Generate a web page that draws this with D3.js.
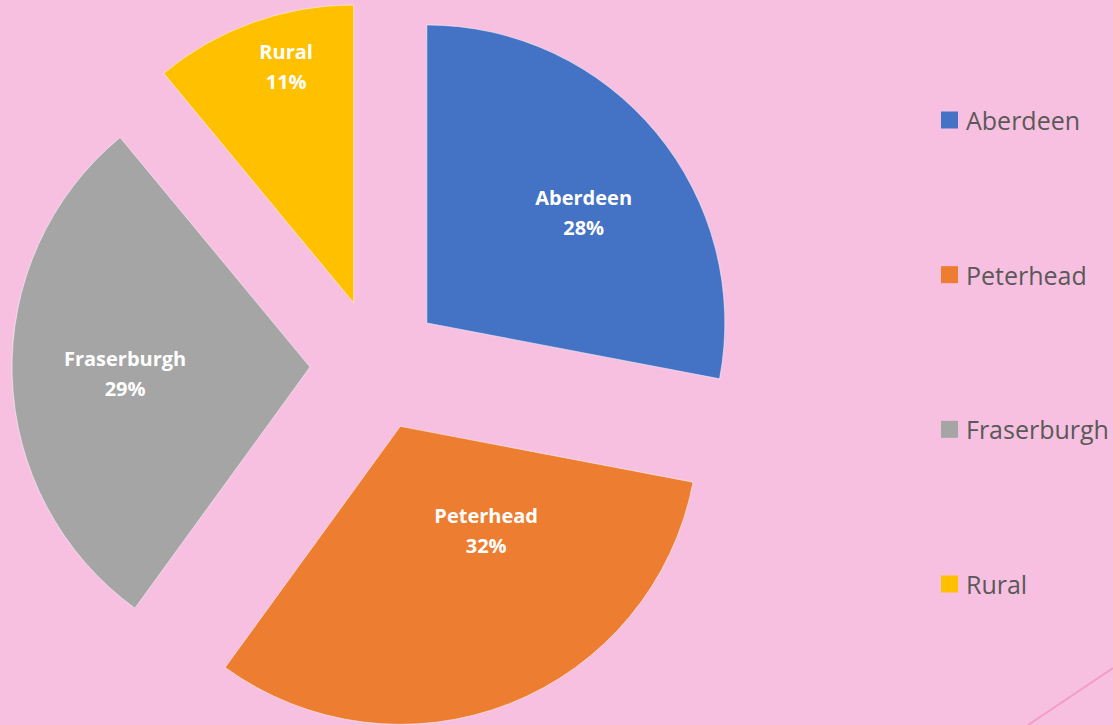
<!DOCTYPE html>
<html>
<head>
<meta charset="utf-8">
<script src="https://cdn.jsdelivr.net/npm/d3@7"></script>
<style>
  html, body { margin: 0; padding: 0; background: #f8c0e0; }
  svg { display: block; }
</style>
</head>
<body>
<div id="chart"></div>
<script>
var categories = ["Aberdeen", "Peterhead", "Fraserburgh", "Rural"];
var shares = [28, 32, 29, 11];
var colors = ["#4472c4", "#ed7d31", "#a5a5a5", "#ffc000"];

// label nudge from the arc centroid, like excel's best fit
var labelShift = [[42, -15], [31, -34], [-36, 2], [-17, -96]];

var width = 1113, height = 725;
var cx = 376, cy = 365, radius = 298, explode = 66;

var svg = d3.select("#chart").append("svg")
	.attr("width", width).attr("height", height);

svg.append("rect").attr("width", width).attr("height", height).attr("fill", "#f8c0e0");

// little decoration in the corner
svg.append("line")
	.attr("x1", 1113).attr("y1", 668).attr("x2", 1028).attr("y2", 725)
	.attr("stroke", "#f29ccb").attr("stroke-width", 2);

var data = categories.map(function(c, i){ return {name: c, value: shares[i], color: colors[i], shift: labelShift[i]}; });

var pie = d3.pie().sort(null).value(function(d){ return d.value; });
var arc = d3.arc().innerRadius(0).outerRadius(radius);

var g = svg.append("g").attr("transform", "translate(" + cx + "," + cy + ")");

var slices = g.selectAll(".slice").data(pie(data)).enter().append("g")
	.attr("class", "slice")
	.attr("transform", function(d){
		var a = (d.startAngle + d.endAngle) / 2;
		return "translate(" + (Math.sin(a) * explode) + "," + (-Math.cos(a) * explode) + ")";
	});

slices.append("path")
	.attr("d", arc)
	.attr("fill", function(d){ return d.data.color; })
	.attr("stroke", "#ffffff").attr("stroke-opacity", 0.5).attr("stroke-width", 1);

var total = d3.sum(shares);
var labels = slices.append("text")
	.attr("transform", function(d){
		var c = arc.centroid(d);
		return "translate(" + (c[0] + d.data.shift[0]) + "," + (c[1] + d.data.shift[1]) + ")";
	})
	.attr("text-anchor", "middle")
	.attr("fill", "#ffffff")
	.style("font-family", "'Open Sans', sans-serif")
	.style("font-weight", "bold")
	.style("font-size", "20px");

labels.append("tspan").attr("x", 0).attr("y", -15).attr("dominant-baseline", "central")
	.text(function(d){ return d.data.name; });
labels.append("tspan").attr("x", 0).attr("y", 15).attr("dominant-baseline", "central")
	.text(function(d){ return Math.round(d.data.value / total * 100) + "%"; });

// legend
var ly = d3.scalePoint().domain(categories).range([120, 584]);

var legend = svg.selectAll(".legend").data(data).enter().append("g")
	.attr("class", "legend")
	.attr("transform", function(d){ return "translate(941," + ly(d.name) + ")"; });

legend.append("rect")
	.attr("x", 0).attr("y", -8.5).attr("width", 17).attr("height", 17)
	.attr("fill", function(d){ return d.color; });

legend.append("text")
	.attr("x", 25).attr("y", 0)
	.attr("dominant-baseline", "central")
	.attr("fill", "#595959")
	.style("font-family", "'Open Sans', sans-serif")
	.style("font-size", "25px")
	.text(function(d){ return d.name; });
</script>
</body>
</html>
